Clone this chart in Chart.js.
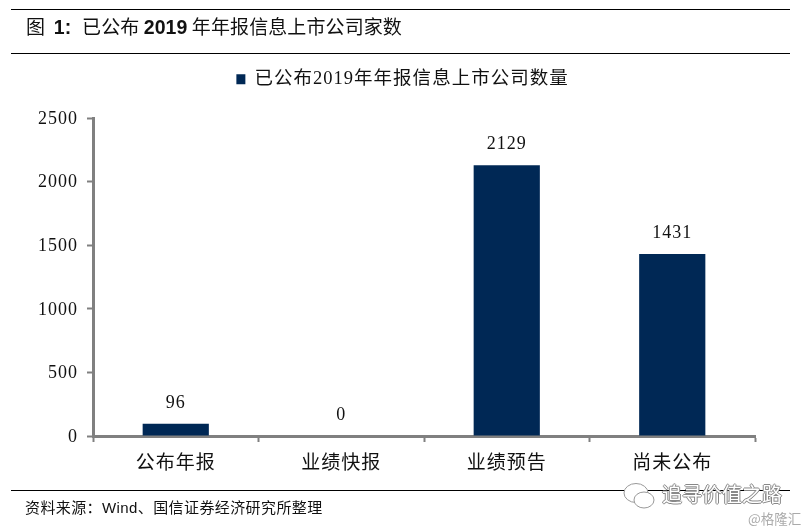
<!DOCTYPE html>
<html lang="zh-CN">
<head>
<meta charset="utf-8">
<title>已公布 2019 年年报信息上市公司家数</title>
<script src="https://cdn.jsdelivr.net/npm/chart.js@4/dist/chart.umd.js"></script>
<style>
  html, body { margin: 0; padding: 0; background: #fff; }
  body { width: 805px; height: 529px; position: relative; overflow: hidden; }
  #plot { position: absolute; left: 0; top: 0; }
  .rule { position: absolute; left: 11px; width: 779px; background: #000; }
  #heading {
    position: absolute; left: 26px; top: 14px; font-size: 19px; line-height: 24px; color: #111;
    letter-spacing: 0.1px;
    font-family: "Noto Sans CJK SC", sans-serif; white-space: pre;
  }
  #heading b { font-family: "Liberation Sans", sans-serif; font-weight: 700; font-size: 19.5px; }
  #heading b:first-of-type { margin-right: 2px; }
  #source {
    position: absolute; left: 25px; top: 499px; font-size: 15px; line-height: 18px; color: #111;
    letter-spacing: 0.4px;
    font-family: "Liberation Sans", "Noto Sans CJK SC", sans-serif; white-space: pre;
  }
  #account {
    position: absolute; left: 662px; top: 481px; font-size: 20px; line-height: 26px; color: #fff;
    font-family: "Noto Sans CJK SC", sans-serif; white-space: pre;
    text-shadow: -1px 0 #888, 1px 0 #888, 0 -1px #888, 0 1px #888;
  }
  #mark {
    position: absolute; left: 748px; top: 510px; font-size: 13.5px; line-height: 16px; color: #aaa;
    font-family: "Noto Sans CJK SC", sans-serif; white-space: pre;
  }
  #bubbles { position: absolute; left: 622px; top: 482px; }
</style>
</head>
<body>
<canvas id="plot" width="805" height="529"></canvas>
<div class="rule" style="top:9px;height:1px"></div>
<div class="rule" style="top:53px;height:1px"></div>
<div class="rule" style="top:490px;height:1px"></div>
<div id="heading">图  <b>1:</b>  已公布 <b>2019</b> 年年报信息上市公司家数</div>
<div id="source">资料来源：Wind、国信证券经济研究所整理</div>
<svg id="bubbles" width="34" height="30" viewBox="0 0 34 30" fill="#fff" stroke="#999" stroke-width="1">
  <ellipse cx="14" cy="11" rx="12" ry="9.5"/>
  <ellipse cx="22" cy="18" rx="10" ry="8"/>
</svg>
<div id="account">追寻价值之路</div>
<div id="mark">@格隆汇</div>
<script>
const categories = ['公布年报', '业绩快报', '业绩预告', '尚未公布'];
const companyCounts = [96, 0, 2129, 1431];
const seriesName = '已公布2019年年报信息上市公司数量';
const yTicks = [0, 500, 1000, 1500, 2000, 2500];

const axisGray = '#808080';
const barBlue = '#002855';
const labelFamily = '"Liberation Serif", "Noto Sans CJK SC", serif';

// canvas text is spread out a little, and a resize resets the context
const textSpacing = {
  id: 'textSpacing',
  beforeLayout(chart) { chart.ctx.letterSpacing = '1px'; },
  beforeDraw(chart) { chart.ctx.letterSpacing = '1px'; },
};

// the legend keeps a fixed band above the plot and centres on the whole canvas
const legendBand = {
  id: 'legendBand',
  afterInit(chart) {
    const fit = chart.legend.fit;
    chart.legend.fit = function () {
      fit.call(this);
      this.height = 80;
    };
  },
  afterLayout(chart) {
    chart.legend.right = chart.width;
  },
};

const valueLabels = {
  id: 'valueLabels',
  afterDatasetsDraw(chart) {
    const { ctx } = chart;
    ctx.save();
    ctx.font = `18px ${labelFamily}`;
    ctx.fillStyle = '#111';
    ctx.textAlign = 'center';
    ctx.textBaseline = 'middle';
    chart.getDatasetMeta(0).data.forEach((bar, i) => {
      ctx.fillText(companyCounts[i], bar.x, bar.y - 21);
    });
    ctx.restore();
  },
};

new Chart(document.getElementById('plot'), {
  type: 'bar',
  data: {
    labels: categories,
    datasets: [
      {
        label: seriesName,
        data: companyCounts,
        backgroundColor: barBlue,
        categoryPercentage: 1,
        barPercentage: 0.4,
      },
    ],
  },
  options: {
    responsive: false,
    animation: false,
    layout: { padding: { left: 0, right: 50, top: 38, bottom: 0 } },
    scales: {
      x: {
        afterFit(scale) { scale.height = 93; },
        border: { color: axisGray, width: 3 },
        grid: { drawOnChartArea: false, color: axisGray, tickLength: 6, tickWidth: 2 },
        ticks: {
          color: '#111',
          padding: 11,
          maxRotation: 0,
          font: { size: 19, family: labelFamily },
        },
      },
      y: {
        min: 0,
        max: 2500,
        afterFit(scale) { scale.width = 93; },
        afterBuildTicks(scale) { scale.ticks = yTicks.map((value) => ({ value })); },
        border: { color: axisGray, width: 3 },
        grid: { drawOnChartArea: false, color: axisGray, tickLength: 6, tickWidth: 2 },
        ticks: {
          color: '#111',
          padding: 9,
          labelOffset: 1,
          font: { size: 18, family: labelFamily },
          callback: (value) => String(value),
        },
      },
    },
    plugins: {
      tooltip: { enabled: false },
      legend: {
        position: 'top',
        labels: {
          boxWidth: 9,
          boxHeight: 10,
          padding: 32,
          color: '#111',
          font: { size: 18.5, family: labelFamily },
        },
      },
    },
  },
  plugins: [textSpacing, legendBand, valueLabels],
});
</script>
</body>
</html>
